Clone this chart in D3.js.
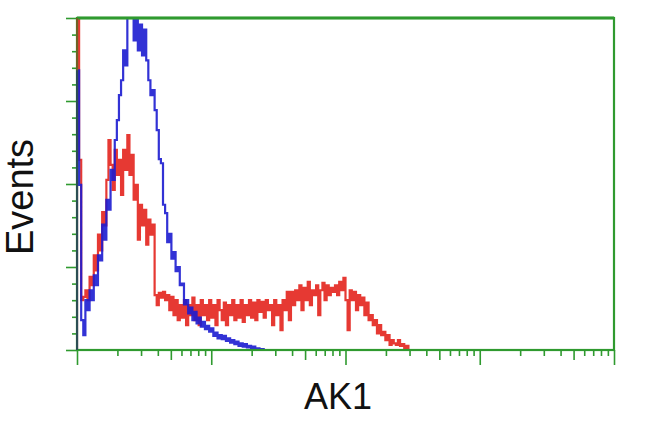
<!DOCTYPE html>
<html><head><meta charset="utf-8">
<script src="https://cdn.jsdelivr.net/npm/d3@7"></script>
<style>body{margin:0;background:#fff;overflow:hidden}</style>
</head><body><svg id="c" width="650" height="432"></svg>
<script>
// Histogram counts per channel (256 log-spaced channels over 4 decades)
const redCounts = [400,229,60,64,72,60,88,78,114,96,139,120,166,150,205,253,223,193,241,211,
229,187,241,217,259,211,235,181,199,133,175,150,169,127,157,139,151,66,54,69,
63,70,60,66,48,64,42,60,36,54,39,60,30,54,42,63,36,54,30,60,
42,54,36,60,39,54,30,60,48,36,57,30,54,42,60,36,54,39,60,34,
54,42,60,39,57,36,60,46,58,39,60,48,54,30,60,42,54,24,60,48,
70,36,70,54,72,60,78,48,75,60,82,54,72,66,78,42,72,81,60,78,
66,75,70,78,66,82,72,87,60,24,72,60,70,48,66,54,63,42,57,36,
42,30,36,20,30,18,22,12,18,6,12,8,6,12,5,7,2,5,0];
const blueCounts = [337,199,36,18,60,48,72,60,90,78,114,108,151,133,181,169,217,205,253,277,
307,325,361,343,420,420,420,373,420,361,392,355,386,349,325,307,313,289,265,230,
225,175,165,130,140,110,118,95,100,78,80,55,60,44,51,36,46,32,39,28,
34,25,29,22,26,17,21,14,18,13,17,11,14,9,12,7,10,5,8,4,
7,3,5,2,4,1,2,0,1,0];
const nChannels = 256;
const xDomain = [1, 10000];
const yDomain = [0, 400];
const yMajorTicks = [0,100,200,300,400];
const yMinorStep = 20;
const xLabel = "AK1";
const yLabel = "Events";

const green = "#2f9a2f";
const svg = d3.select("#c");
const L = 77, R = 614, T = 18, B = 350;

const xCh = d3.scaleLinear().domain([0, nChannels]).range([L, R]);
const xLog = d3.scaleLog().domain(xDomain).range([L, R]);
const y = d3.scaleLinear().domain(yDomain).range([B, T]);

svg.append("defs").append("clipPath").attr("id","clip")
  .append("rect").attr("x", L).attr("y", T).attr("width", R-L).attr("height", B-T);

function histPath(counts){
  const pts = [[xCh(0), y(0)]];
  counts.forEach((v,i)=>pts.push([xCh(i), y(v)]));
  pts.push([xCh(counts.length), y(counts[counts.length-1])]);
  return d3.line().curve(d3.curveStepAfter)(pts);
}

const g = svg.append("g").attr("clip-path","url(#clip)");
g.append("path").attr("d", histPath(redCounts)).attr("fill","none")
  .attr("stroke","#e3241d").attr("stroke-width",2.2).attr("stroke-opacity",0.9);
g.append("path").attr("d", histPath(blueCounts)).attr("fill","none")
  .attr("stroke","#1c1cd0").attr("stroke-width",2.2).attr("stroke-opacity",0.9);

// X ticks (log)
const allX = xLog.ticks();
const lead = v => Math.round(v / Math.pow(10, Math.floor(Math.log10(v)+1e-9)));
const groups = [
  {vals: allX.filter(v=>lead(v)===1), size: 15},
  {vals: allX.filter(v=>lead(v)===5), size: 10},
  {vals: allX.filter(v=>lead(v)!==1 && lead(v)!==5), size: 6}
];
groups.forEach(gr=>{
  const a = svg.append("g").attr("transform",`translate(0,${B})`)
    .call(d3.axisBottom(xLog).tickValues(gr.vals).tickSize(gr.size).tickFormat(""));
  a.select(".domain").remove();
  a.selectAll("line").attr("stroke", green).attr("stroke-width",1.6);
});
// Y ticks
const yMinor = d3.range(yDomain[0], yDomain[1]+1, yMinorStep).filter(v=>!yMajorTicks.includes(v));
[[yMajorTicks,11],[yMinor,5]].forEach(([vals,size])=>{
  const a = svg.append("g").attr("transform",`translate(${L},0)`)
    .call(d3.axisLeft(y).tickValues(vals).tickSize(size).tickFormat(""));
  a.select(".domain").remove();
  a.selectAll("line").attr("stroke", green).attr("stroke-width",1.6);
});

// Frame
svg.append("rect").attr("x",L).attr("y",T).attr("width",R-L).attr("height",B-T)
  .attr("fill","none").attr("stroke",green).attr("stroke-width",2.2);
svg.append("line").attr("x1",L).attr("x2",R).attr("y1",T).attr("y2",T)
  .attr("stroke",green).attr("stroke-width",3);

// First channels drawn over the left axis line
const g2 = svg.append("g");
g2.append("line").attr("x1",L).attr("x2",L).attr("y1",y(0)).attr("y2",Math.max(T,y(redCounts[0])))
  .attr("stroke","#8a4a20").attr("stroke-width",2).attr("stroke-opacity",0.7);
g2.append("line").attr("x1",L).attr("x2",L).attr("y1",y(0)).attr("y2",y(blueCounts[0]))
  .attr("stroke","#1c4a60").attr("stroke-width",2).attr("stroke-opacity",0.8);

// Labels
svg.append("text").attr("x", 338).attr("y", 409)
  .attr("text-anchor","middle").attr("font-family","Liberation Sans, Arial, sans-serif")
  .attr("font-size",36).attr("fill","#111").text(xLabel);
svg.append("text").attr("transform","translate(33,197) rotate(-90)")
  .attr("text-anchor","middle").attr("font-family","Liberation Sans, Arial, sans-serif")
  .attr("font-size",38).attr("fill","#111").text(yLabel);
</script></body></html>
